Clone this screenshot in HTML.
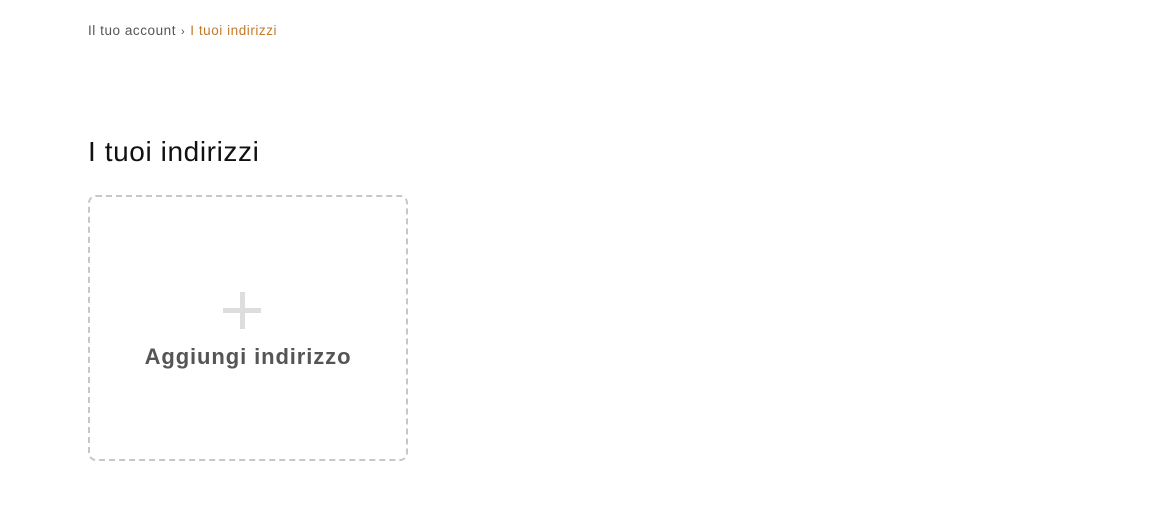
<!DOCTYPE html>
<html><head><meta charset="utf-8"><style>
body{margin:0;width:1167px;height:510px;background:#fff;font-family:"Liberation Sans",sans-serif;position:relative;overflow:hidden}
.bc{position:absolute;left:88px;top:23px;font-size:13.5px;color:#555;letter-spacing:0.55px}
.bc .cur{color:#c27a2a}
.bc .sep{margin:0 5px;font-size:11px}
h1{position:absolute;left:88px;top:136px;margin:0;font-weight:400;font-size:28px;letter-spacing:0.6px;color:#111}
.box{position:absolute;left:88px;top:195px;width:316px;height:262px;border:2px dashed #c7c7c7;border-radius:8px}
.ph{position:absolute;left:223px;top:308px;width:38px;height:5px;background:#ddd}
.pv{position:absolute;left:240px;top:292px;width:5px;height:37px;background:#ddd}
.t{position:absolute;left:88px;width:320px;top:344px;text-align:center;font-weight:700;font-size:22px;letter-spacing:0.9px;color:#555}
</style></head><body>
<div class="bc">Il tuo account<span class="sep">›</span><span class="cur">I tuoi indirizzi</span></div>
<h1>I tuoi indirizzi</h1>
<div class="box"></div>
<div class="ph"></div><div class="pv"></div>
<div class="t">Aggiungi indirizzo</div>
</body></html>
